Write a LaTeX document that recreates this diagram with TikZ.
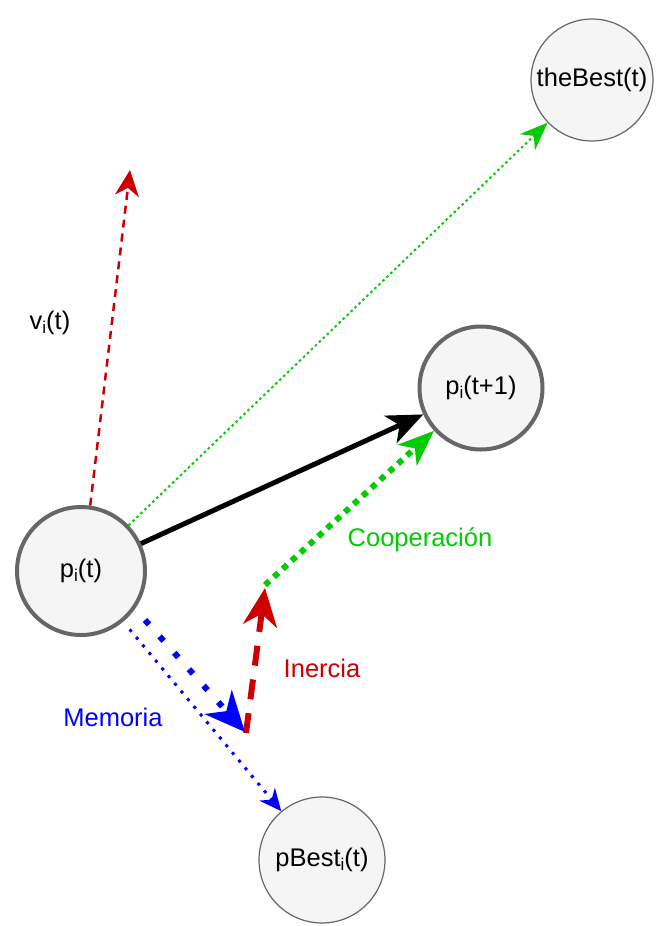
\documentclass[tikz,border=0pt]{standalone}
\usepackage{fontspec}
\setmainfont{Liberation Sans}
\usetikzlibrary{arrows.meta}
\definecolor{nodefill}{HTML}{F5F5F5}
\definecolor{nodeborder}{HTML}{666666}
\definecolor{ared}{HTML}{CC0000}
\definecolor{agreen}{HTML}{00CC00}
\definecolor{ablue}{HTML}{0000FF}
\newcommand{\mysub}[1]{\raisebox{-0.3ex}{\fontsize{17}{20}\selectfont #1}}
\begin{document}
\begin{tikzpicture}[x=1pt,y=-1pt,
  state/.style={circle,fill=nodefill,draw=nodeborder,inner sep=0pt,font=\fontsize{25.5}{30}\selectfont},
  thickstate/.style={state,line width=4pt},
  thinstate/.style={state,line width=1.2pt},
  lbl/.style={font=\fontsize{25.5}{30}\selectfont,inner sep=0pt},
  redthin/.style={draw=ared,line width=2.5pt,dash pattern=on 8pt off 6pt,-{Stealth[length=26pt,width=24pt,inset=8pt]}},
  greenthin/.style={draw=agreen,line width=2pt,dash pattern=on 2.5pt off 3pt,-{Stealth[length=28pt,width=22pt,inset=9pt]}},
  blackarrow/.style={draw=black,line width=5pt,-{Stealth[length=36pt,width=30pt,inset=10pt]}},
  greenthick/.style={draw=agreen,line width=6pt,dash pattern=on 6pt off 6pt,-{Stealth[length=36pt,width=28pt,inset=10pt]}},
  redthick/.style={draw=ared,line width=6pt,dash pattern=on 20pt off 14pt,-{Stealth[length=38pt,width=34pt,inset=12pt]}},
  bluethick/.style={draw=ablue,line width=6pt,dash pattern=on 6pt off 16pt,-{Stealth[length=40pt,width=36pt,inset=12pt]}},
  bluethin/.style={draw=ablue,line width=3pt,dash pattern=on 3pt off 7pt,-{Stealth[length=22pt,width=20pt,inset=7pt]}}]
\useasboundingbox (0,0) rectangle (657,926);
\node[thinstate,minimum size=122pt] (best) at (592,80) {theBest(t)};
\node[thickstate,minimum size=123pt] (pit1) at (481,388) {p\mysub{i}(t+1)};
\node[thickstate,minimum size=128pt] (pit) at (81,571) {p\mysub{i}(t)};
\node[thinstate,minimum size=126pt] (pbest) at (322,860) {pBest\mysub{i}(t)};
\coordinate (vtip) at (130,170);
\coordinate (gstart) at (265,585);
\coordinate (rstart) at (246,733);
\coordinate (rtip) at (265,588);
\coordinate (bstart) at (145,620);
\coordinate (btip) at (245,732);
\draw[redthin] (pit.82) -- (vtip);
\draw[greenthin] (pit) -- (best);
\draw[blackarrow] (pit) -- (pit1);
\draw[greenthick] (gstart) -- (pit1);
\draw[redthick] (rstart) -- (rtip);
\draw[bluethick] (bstart) -- (btip);
\draw[bluethin,shorten <=10pt] (pit) -- (pbest);
\node[lbl] (vl) at (50,323) {v\mysub{i}(t)};
\node[lbl,text=agreen] (coop) at (420,540) {Cooperación};
\node[lbl,text=ared] (iner) at (322,668) {Inercia};
\node[lbl,text=ablue] (mem) at (113,717) {Memoria};
\end{tikzpicture}
\end{document}
